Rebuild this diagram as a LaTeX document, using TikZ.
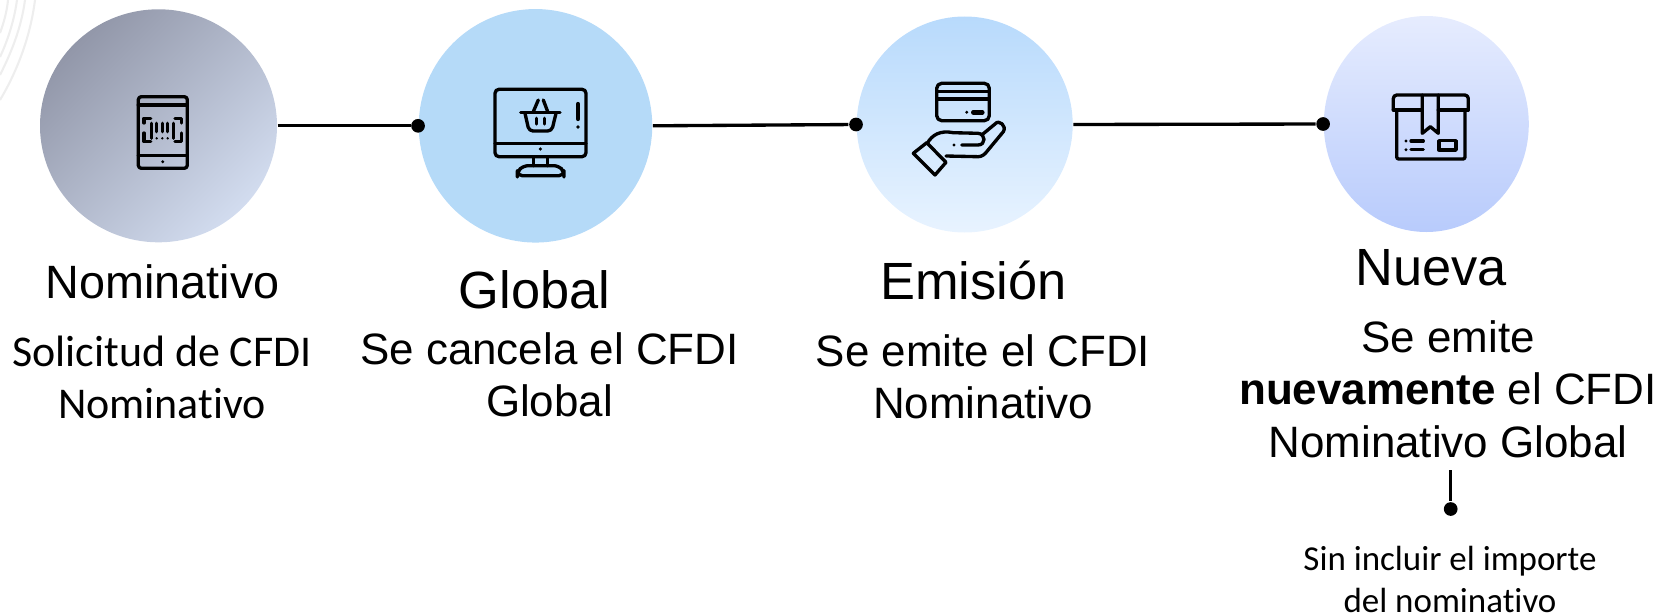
\documentclass[tikz,border=0pt]{standalone}
\usepackage{fontspec}
\setmainfont{Liberation Sans}
\newfontfamily\calibrifont[RawFeature=-liga]{Carlito}
\usepackage{tikz}
\usetikzlibrary{shapes.geometric}

\definecolor{nominativodark}{HTML}{9297A9}
\definecolor{nominativolight}{HTML}{D2DCEF}
\definecolor{globalblue}{HTML}{B5DAF8}
\definecolor{emisiontop}{HTML}{B8DAFC}
\definecolor{emisionbottom}{HTML}{E8F3FF}
\definecolor{nuevatop}{HTML}{E6ECFE}
\definecolor{nuevabottom}{HTML}{B8CBFC}
\definecolor{arcgray}{HTML}{EEEEEE}
\tikzset{
  stepcircle/.style={circle, inner sep=0pt, minimum size=#1},
  linkline/.style={line width=0.95pt, black},
  linkdot/.style={circle, fill=black, inner sep=0pt, minimum size=0.137cm},
  icon/.style={line width=0.95pt, black, line cap=round, line join=round},
  titletext/.style={anchor=north, align=center, font=\fontsize{14.9pt}{18pt}\selectfont},
  bodytext/.style={anchor=north, align=center, font=\fontsize{12.5pt}{15pt}\selectfont},
  calibritext/.style={anchor=north, align=center, font=\calibrifont\fontsize{12.5pt}{14.6pt}\selectfont}
}

\begin{document}
\begin{tikzpicture}
        \useasboundingbox (0,0) rectangle (16.72,-6.15);
        % arcs in the corner
        \draw[arcgray, line width=0.6pt] (0.35,0) .. controls (0.30,-0.40) and (0.15,-0.75) .. (0,-1.00);
        \draw[arcgray, line width=0.6pt] (0.25,0) .. controls (0.21,-0.30) and (0.10,-0.55) .. (0,-0.75);
        \draw[arcgray, line width=0.6pt] (0.17,0) .. controls (0.14,-0.22) and (0.07,-0.42) .. (0,-0.57);
        \draw[arcgray, line width=0.6pt] (0.08,0) .. controls (0.07,-0.12) and (0.03,-0.25) .. (0,-0.33);

        % circles
        \node[ellipse, inner sep=0pt, minimum width=2.37cm, minimum height=2.33cm, top color=nominativodark, bottom color=nominativolight, shading angle=45] (nominativo) at (1.585,-1.258) {};
        \node[stepcircle=2.335cm, fill=globalblue] (global) at (5.355,-1.258) {};
        \node[stepcircle=2.16cm, top color=emisiontop, bottom color=emisionbottom] (emision) at (9.647,-1.245) {};
        \node[ellipse, inner sep=0pt, minimum width=2.05cm, minimum height=2.16cm, top color=nuevatop, bottom color=nuevabottom] (nueva) at (14.263,-1.24) {};

        % dots and lines
        \node[linkdot] (dota) at (global.west) {};
        \node[linkdot] (dotb) at (emision.west) {};
        \node[linkdot] (dotc) at (nueva.west) {};
        \coordinate (topd) at (14.507,-4.70);
        \node[linkdot] (dotd) at (14.507,-5.09) {};
        \draw[linkline] (nominativo.east) -- (dota);
        \draw[linkline] (global.east) -- (dotb);
        \draw[linkline] (emision.east) -- (dotc);
        \draw[linkline] (topd) -- (dotd);

        % texts
        \node[titletext] (titlea) at (1.626,-2.52) {\fontsize{13.3pt}{16pt}\selectfont Nominativo};
        \node[calibritext] (bodya) at (1.62,-3.24) {Solicitud de CFDI\\Nominativo};
        \node[titletext] (titleb) at (5.345,-2.58) {Global};
        \node[bodytext] (bodyb) at (5.495,-3.20) {Se cancela el CFDI\\Global};
        \node[titletext] (titlec) at (9.735,-2.49) {Emisión};
        \node[bodytext] (bodyc) at (9.83,-3.22) {Se emite el CFDI\\Nominativo};
        \node[titletext] (titled) at (14.31,-2.37) {Nueva};
        \node[bodytext] (bodyd) at (14.48,-3.08) {Se emite\\\textbf{nuevamente} el CFDI\\Nominativo Global};
        \node[calibritext, font=\calibrifont\fontsize{9.95pt}{11.9pt}\selectfont] (noted) at (14.50,-5.34) {Sin incluir el importe\\del nominativo};

        % tablet icon
        \draw[icon, rounded corners=0.03cm] (1.383,-0.967) rectangle (1.873,-1.683);
        \draw[icon] (1.383,-1.05) -- (1.873,-1.05) (1.383,-1.557) -- (1.873,-1.557);
        \fill (1.627,-1.617) circle (0.016);
        \draw[icon] (1.44,-1.23) -- (1.44,-1.183) -- (1.507,-1.183);
        \draw[icon] (1.75,-1.183) -- (1.817,-1.183) -- (1.817,-1.23);
        \draw[icon] (1.44,-1.33) -- (1.44,-1.417) -- (1.507,-1.417);
        \draw[icon] (1.75,-1.417) -- (1.817,-1.417) -- (1.817,-1.33);
        \draw[icon] (1.517,-1.233) -- (1.517,-1.383) (1.733,-1.233) -- (1.733,-1.383);
        \foreach \x in {1.567,1.623,1.677} {
          \draw[icon] (\x,-1.233) -- (\x,-1.317);
          \fill (\x,-1.383) circle (0.013);
        }

        % screen icon
        \draw[icon, rounded corners=0.04cm] (4.95,-0.893) rectangle (5.86,-1.567);
        \draw[icon] (4.95,-1.433) -- (5.86,-1.433);
        \fill (5.403,-1.49) circle (0.018);
        \draw[icon] (5.333,-1.567) -- (5.333,-1.657) (5.477,-1.567) -- (5.477,-1.657);
        \draw[icon, rounded corners=0.05cm] (5.173,-1.757) -- (5.173,-1.72) -- (5.23,-1.657) -- (5.59,-1.657) -- (5.64,-1.72) -- (5.64,-1.757) -- cycle;
        \draw[icon] (5.207,-1.123) -- (5.60,-1.123);
        \draw[icon, rounded corners=0.04cm] (5.25,-1.133) -- (5.29,-1.31) -- (5.517,-1.31) -- (5.56,-1.133);
        \draw[icon] (5.333,-1.117) -- (5.383,-1.00) (5.477,-1.117) -- (5.433,-1.00);
        \draw[icon] (5.367,-1.183) -- (5.367,-1.24) (5.443,-1.183) -- (5.443,-1.24);
        \draw[icon, line width=1.2pt] (5.78,-1.04) -- (5.78,-1.19);
        \fill (5.78,-1.27) circle (0.018);

        % card and hand icon
        \draw[icon, rounded corners=0.05cm] (9.367,-0.833) rectangle (9.893,-1.207);
        \draw[icon] (9.367,-0.917) -- (9.893,-0.917) (9.367,-0.99) -- (9.893,-0.99);
        \fill (9.667,-1.123) circle (0.016);
        \draw[icon, line width=1.3pt] (9.733,-1.123) -- (9.823,-1.123);
        \draw[icon] (9.133,-1.533) -- (9.267,-1.427) -- (9.46,-1.623) -- (9.35,-1.75) -- cycle;
        \draw[icon] (9.273,-1.433) .. controls (9.32,-1.35) and (9.40,-1.30) .. (9.533,-1.327) -- (9.78,-1.333) .. controls (9.86,-1.34) and (9.86,-1.45) .. (9.78,-1.45) -- (9.617,-1.45);
        \fill (9.54,-1.45) circle (0.016);
        \draw[icon] (9.46,-1.56) -- (9.783,-1.567) .. controls (9.82,-1.567) and (9.85,-1.54) .. (9.867,-1.517) -- (10.033,-1.317) .. controls (10.07,-1.26) and (9.99,-1.19) .. (9.95,-1.24) -- (9.817,-1.35);

        % box icon
        \draw[icon, rounded corners=0.035cm] (13.933,-1.10) -- (13.933,-0.95) -- (14.683,-0.95) -- (14.683,-1.10);
        \draw[icon] (13.933,-1.10) -- (14.223,-1.10) (14.383,-1.10) -- (14.683,-1.10);
        \draw[icon, rounded corners=0.02cm] (13.967,-1.10) -- (13.967,-1.59) -- (14.65,-1.59) -- (14.65,-1.10);
        \draw[icon] (14.223,-0.95) -- (14.223,-1.333) -- (14.303,-1.267) -- (14.383,-1.333) -- (14.383,-0.95);
        \draw[icon] (14.11,-1.41) -- (14.233,-1.41) (14.11,-1.497) -- (14.233,-1.497);
        \fill (14.06,-1.41) circle (0.016) (14.06,-1.497) circle (0.016);
        \draw[icon] (14.39,-1.407) rectangle (14.56,-1.50);
    \end{tikzpicture}
\end{document}
